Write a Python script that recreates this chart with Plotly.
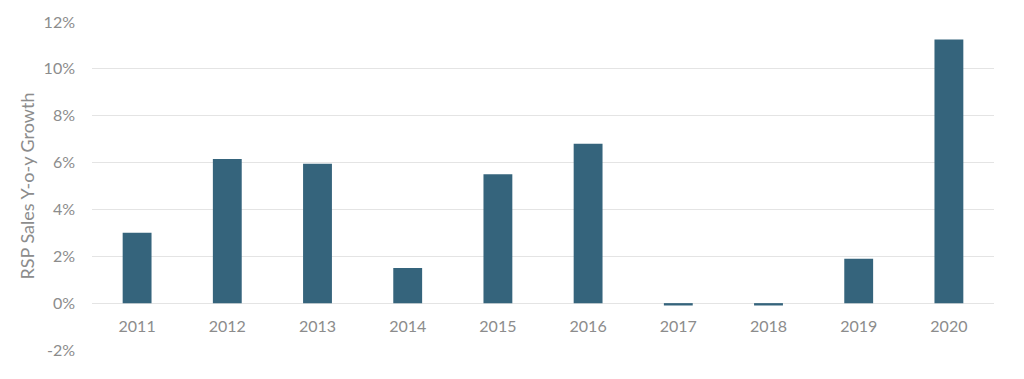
import plotly.graph_objects as go

years = ["2011", "2012", "2013", "2014", "2015", "2016", "2017", "2018", "2019", "2020"]
growth = [3.0, 6.15, 5.95, 1.5, 5.5, 6.8, -0.1, -0.1, 1.9, 11.25]
ytick_vals = [-2, 0, 2, 4, 6, 8, 10, 12]
ytick_text = ["-2%", "0%", "2%", "4%", "6%", "8%", "10%", "12%"]

ymin, ymax = -2, 12
fnt = dict(family="Lato, Calibri, sans-serif", size=16, color="#8c8c8c")
title_fnt = dict(family="Lato, Calibri, sans-serif", size=18, color="#8c8c8c")

fig = go.Figure(go.Bar(x=years, y=growth, marker=dict(color="#35647c", line=dict(width=0)), width=0.32))
fig.update_layout(
    width=1024, height=379,
    margin=dict(l=92, r=30, t=22, b=29),
    plot_bgcolor="white", paper_bgcolor="white",
    showlegend=False, font=fnt,
    xaxis=dict(anchor="free", position=(0 - ymin) / (ymax - ymin), showline=False, showgrid=False,
               ticks="", tickfont=fnt, ticklabelstandoff=12),
    yaxis=dict(range=[ymin, ymax], tickvals=ytick_vals, ticktext=ytick_text, showgrid=True,
               gridcolor="#e4e4e4", gridwidth=1, zeroline=False, showline=False, ticks="",
               tickfont=fnt, ticklabelstandoff=16,
               title=dict(text="RSP Sales Y-o-y Growth", font=title_fnt, standoff=4)),
)
fig.write_html("out.html")
